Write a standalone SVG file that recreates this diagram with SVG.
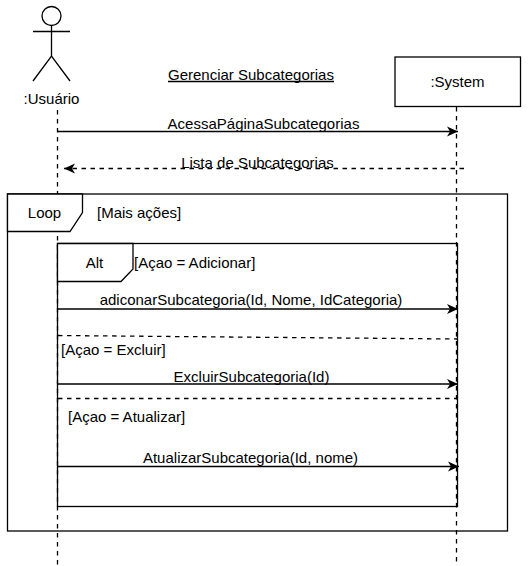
<svg xmlns="http://www.w3.org/2000/svg" width="531" height="566" viewBox="0 0 531 566">
<style>
text{font-family:"Liberation Sans",Arial,sans-serif;font-size:15px;fill:#000}
.s{fill:none;stroke:#000;stroke-width:1.3}
.b{fill:#fff;stroke:#000;stroke-width:1.3}
.d{fill:none;stroke:#000;stroke-width:1.3;stroke-dasharray:4.5 4.5}
.a{fill:none;stroke:#000;stroke-width:1.3;marker-end:url(#ah)}
.ad{fill:none;stroke:#000;stroke-width:1.3;stroke-dasharray:4.5 4.5;marker-end:url(#ah)}
.c{text-anchor:middle}
</style>
<defs>
<marker id="ah" markerUnits="userSpaceOnUse" markerWidth="13" markerHeight="12" refX="11" refY="5" orient="auto" viewBox="0 0 13 10"><path d="M0 0L11 5L0 10L3 5Z" fill="#000"/></marker>
</defs>
<rect width="531" height="566" fill="#fff"/>
<g id="lifelines">
<path class="d" d="M57.500 110V566"/>
<path class="d" d="M456.500 107V566"/>
</g>
<g id="usuario">
<circle class="s" cx="51.500" cy="16" r="9.500"/>
<path class="s" d="M51.500 25.500V56M33 31.500H70M33 81L51.500 56L70 81"/>
<text class="c" x="51.500" y="104">:Usuário</text>
</g>
<g id="system">
<rect class="b" x="395" y="57" width="125.500" height="49.500"/>
<text class="c" x="457.500" y="87">:System</text>
</g>
<text x="168" y="80">Gerenciar Subcategorias</text>
<path class="s" d="M168 81.500H334"/>
<g id="loop-frame">
<rect class="s" x="7.500" y="194" width="500" height="337"/>
<path class="b" d="M7.500 194H82.500V212.500L70 231.500H7.500Z"/>
<text class="c" x="44.500" y="218">Loop</text>
<text x="97" y="218">[Mais ações]</text>
</g>
<g id="alt-frame">
<rect class="s" x="57.500" y="243.500" width="400" height="263"/>
<path class="b" d="M57.500 243.500H133V269L121 281.500H57.500Z"/>
<text class="c" x="94.500" y="268">Alt</text>
<text x="134" y="268">[Açao = Adicionar]</text>
<text x="61" y="355">[Açao = Excluir]</text>
<text x="68" y="422">[Açao = Atualizar]</text>
</g>
<g id="connectors">
<path class="a" d="M58 131.500H458"/>
<path class="ad" d="M464 168.500H64"/>
<path class="a" d="M58 309H458"/>
<path class="d" d="M58 335.500L457 339"/>
<path class="a" d="M58 384H458"/>
<path class="d" d="M58 398.500H457"/>
<path class="a" d="M58 466.500H459"/>
</g>
<g id="labels">
<text class="c" x="263.500" y="129">AcessaPáginaSubcategorias</text>
<text class="c" x="257.500" y="168">Lista de Subcategorias</text>
<text class="c" x="251" y="305">adiconarSubcategoria(Id, Nome, IdCategoria)</text>
<text class="c" x="251.500" y="382">ExcluirSubcategoria(Id)</text>
<text class="c" x="250.500" y="463">AtualizarSubcategoria(Id, nome)</text>
</g>
</svg>
